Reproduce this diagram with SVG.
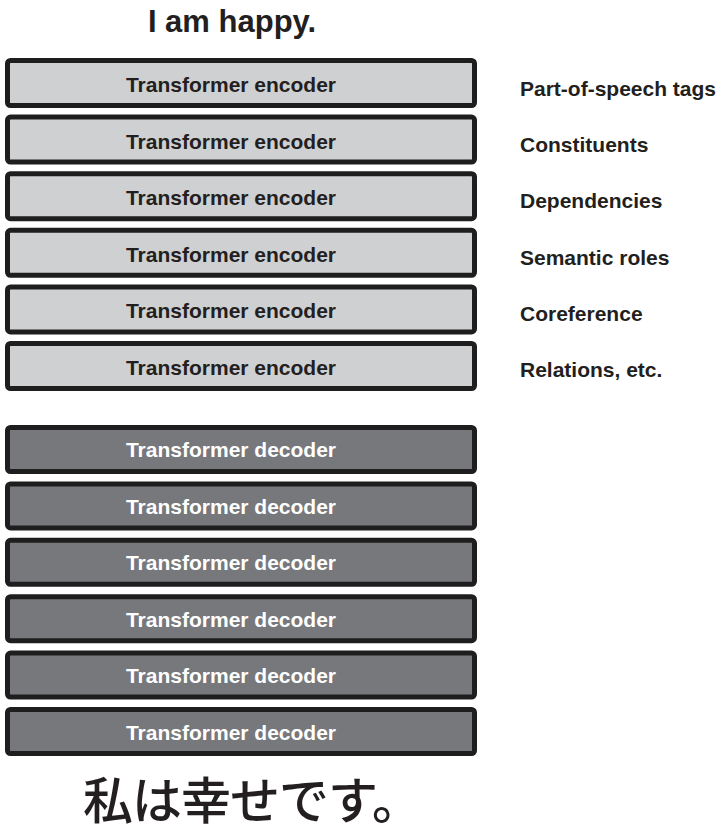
<svg xmlns="http://www.w3.org/2000/svg" width="718" height="834" viewBox="0 0 718 834">
<style>
.box{stroke:#1e1e1e;stroke-width:5}
.enc{fill:#cfd0d2}
.dec{fill:#77787b}
.t{font-family:"Liberation Sans",Arial,sans-serif;font-weight:bold;font-size:21px;text-anchor:middle}
.et{fill:#231f20}
.dt{fill:#ffffff}
.lab{font-family:"Liberation Sans",Arial,sans-serif;font-weight:bold;font-size:21px;fill:#231f20}
</style>
<rect width="718" height="834" fill="#ffffff"/>
<text x="232" y="32" font-family="Liberation Sans, Arial, sans-serif" font-weight="bold" font-size="31" text-anchor="middle" fill="#231f20">I am happy.</text>
<g id="enc1"><rect class="box enc" x="7.5" y="60.5" width="467" height="45" rx="3"/><text class="t et" x="231" y="92">Transformer encoder</text></g>
<g id="enc2"><rect class="box enc" x="7.5" y="117.1" width="467" height="45" rx="3"/><text class="t et" x="231" y="148.6">Transformer encoder</text></g>
<g id="enc3"><rect class="box enc" x="7.5" y="173.7" width="467" height="45" rx="3"/><text class="t et" x="231" y="205.2">Transformer encoder</text></g>
<g id="enc4"><rect class="box enc" x="7.5" y="230.3" width="467" height="45" rx="3"/><text class="t et" x="231" y="261.8">Transformer encoder</text></g>
<g id="enc5"><rect class="box enc" x="7.5" y="286.9" width="467" height="45" rx="3"/><text class="t et" x="231" y="318.4">Transformer encoder</text></g>
<g id="enc6"><rect class="box enc" x="7.5" y="343.5" width="467" height="45" rx="3"/><text class="t et" x="231" y="375">Transformer encoder</text></g>
<g id="dec1"><rect class="box dec" x="7.5" y="427.5" width="467" height="44" rx="3"/><text class="t dt" x="231" y="457">Transformer decoder</text></g>
<g id="dec2"><rect class="box dec" x="7.5" y="483.9" width="467" height="44" rx="3"/><text class="t dt" x="231" y="513.6">Transformer decoder</text></g>
<g id="dec3"><rect class="box dec" x="7.5" y="540.3" width="467" height="44" rx="3"/><text class="t dt" x="231" y="570.2">Transformer decoder</text></g>
<g id="dec4"><rect class="box dec" x="7.5" y="596.7" width="467" height="44" rx="3"/><text class="t dt" x="231" y="626.8">Transformer decoder</text></g>
<g id="dec5"><rect class="box dec" x="7.5" y="653.1" width="467" height="44" rx="3"/><text class="t dt" x="231" y="683.4">Transformer decoder</text></g>
<g id="dec6"><rect class="box dec" x="7.5" y="709.5" width="467" height="44" rx="3"/><text class="t dt" x="231" y="740">Transformer decoder</text></g>
<g id="labels">
<text class="lab" x="520" y="96">Part-of-speech tags</text>
<text class="lab" x="520" y="152.2">Constituents</text>
<text class="lab" x="520" y="208.4">Dependencies</text>
<text class="lab" x="520" y="264.6">Semantic roles</text>
<text class="lab" x="520" y="320.8">Coreference</text>
<text class="lab" x="520" y="377">Relations, etc.</text>
</g>
<g id="connectors"></g>
<text x="252" y="819" font-family="Noto Sans CJK JP, sans-serif" font-weight="500" font-size="50" letter-spacing="-1" text-anchor="middle" fill="#231f20">私は幸せです。</text>
</svg>
